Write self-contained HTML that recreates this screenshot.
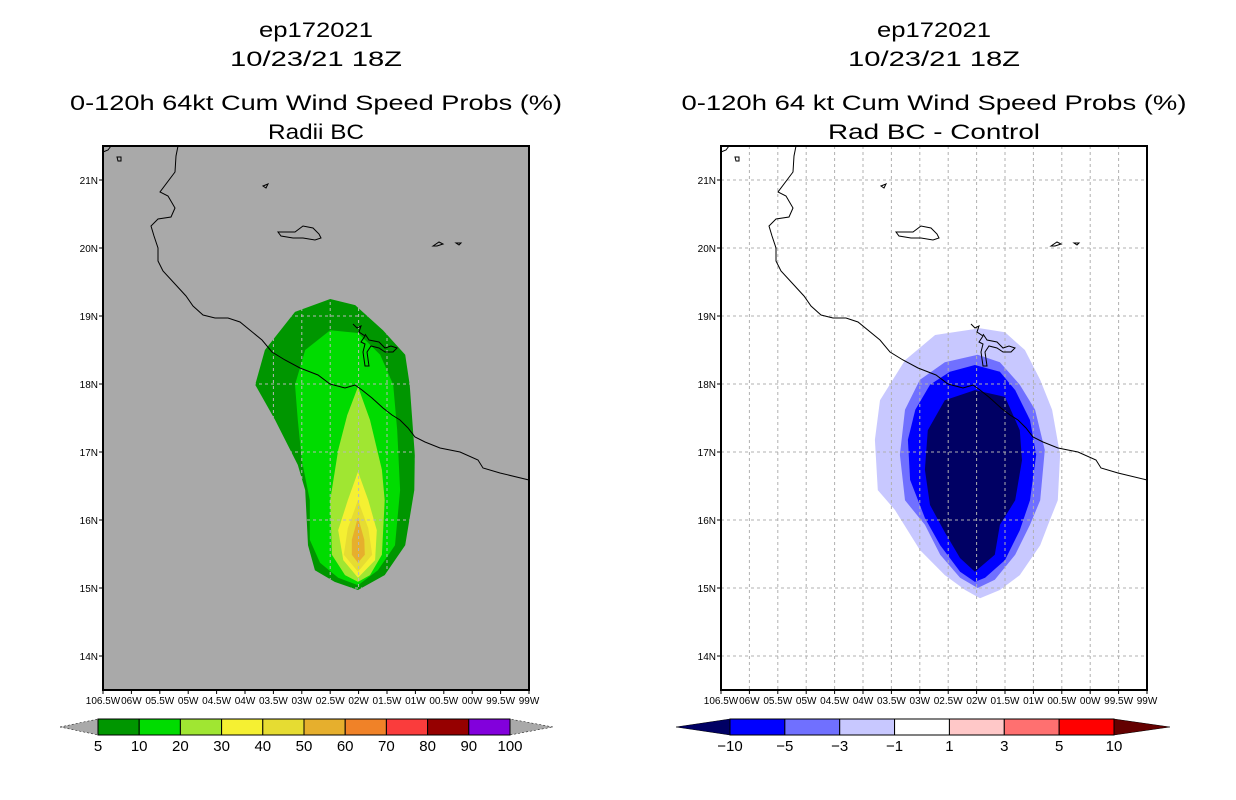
<!DOCTYPE html>
<html><head><meta charset="utf-8"><style>
html,body{margin:0;padding:0;background:#fff;}
svg{display:block;font-family:"Liberation Sans",sans-serif;}
</style></head><body>
<svg id="chart" width="1236" height="800" viewBox="0 0 1236 800"></svg>
<script>
// ---- data ----
const lonTicks=[-106.5,-106,-105.5,-105,-104.5,-104,-103.5,-103,-102.5,-102,-101.5,-101,-100.5,-100,-99.5,-99];
const lonTickLabels=["106.5W","06W","05.5W","05W","04.5W","04W","03.5W","03W","02.5W","02W","01.5W","01W","00.5W","00W","99.5W","99W"];
const latTicks=[14,15,16,17,18,19,20,21];
const latTickLabels=["14N","15N","16N","17N","18N","19N","20N","21N"];
const leftLevels=["5","10","20","30","40","50","60","70","80","90","100"];
const leftColors=["#009600","#00dc00","#a0e632","#f5f032","#e6dc32","#e6af2d","#f08228","#fa3c3c","#960000","#8200dc"];
const rightLevels=["\u221210","\u22125","\u22123","\u22121","1","3","5","10"];
const rightColors=["#0000ff","#7070ff","#c8c8ff","#ffffff","#ffc8c8","#ff7070","#ff0000"];
const rightLow="#000064", rightHigh="#640000";
const p5=[[-102.5,19.25],[-102.06,19.16],[-101.57,18.79],[-101.18,18.43],[-101.1,17.99],[-101.01,16.96],[-101.02,16.44],[-101.18,15.63],[-101.54,15.19],[-102.01,14.97],[-102.42,15.09],[-102.77,15.26],[-102.89,15.63],[-102.94,16.44],[-103.07,16.81],[-103.47,17.47],[-103.82,17.99],[-103.65,18.5],[-103.12,19.06]];
const p10=[[-102.5,18.79],[-102.01,18.75],[-101.62,18.43],[-101.39,17.99],[-101.32,17.32],[-101.27,16.44],[-101.36,15.63],[-101.66,15.26],[-102.01,15.04],[-102.36,15.15],[-102.68,15.37],[-102.86,15.71],[-102.86,16.29],[-103.0,16.88],[-103.07,17.47],[-103.12,17.99],[-102.94,18.5]];
const p20=[[-102.01,17.96],[-101.8,17.47],[-101.59,16.74],[-101.54,16.29],[-101.59,15.49],[-101.8,15.19],[-102.01,15.09],[-102.24,15.19],[-102.47,15.49],[-102.5,16.29],[-102.36,17.03],[-102.2,17.54]];
const p30=[[-102.01,16.71],[-101.83,16.29],[-101.68,15.85],[-101.71,15.41],[-102.01,15.15],[-102.27,15.41],[-102.36,15.85],[-102.19,16.29]];
const p40=[[-102.01,16.29],[-101.83,15.88],[-101.76,15.49],[-102.01,15.24],[-102.26,15.49],[-102.19,15.88]];
const p50=[[-102.01,16.04],[-101.9,15.71],[-101.89,15.49],[-102.01,15.37],[-102.12,15.49],[-102.12,15.71]];
const d1=[[-101.94,18.82],[-101.5,18.76],[-101.15,18.5],[-100.88,18.06],[-100.67,17.62],[-100.53,16.96],[-100.57,16.29],[-100.71,16.0],[-100.88,15.63],[-101.24,15.19],[-101.59,14.97],[-101.94,14.85],[-102.2,14.97],[-102.56,15.19],[-103.0,15.56],[-103.44,16.15],[-103.74,16.44],[-103.79,17.18],[-103.7,17.76],[-103.26,18.35],[-102.73,18.72]];
const d3=[[-101.98,18.43],[-101.59,18.32],[-101.24,17.99],[-100.97,17.62],[-100.8,17.03],[-100.88,16.29],[-101.06,15.93],[-101.32,15.49],[-101.68,15.12],[-101.98,15.0],[-102.29,15.15],[-102.64,15.49],[-102.91,15.93],[-103.26,16.29],[-103.35,16.96],[-103.26,17.62],[-103.0,18.06],[-102.56,18.32]];
const d5=[[-102.03,18.28],[-101.59,18.18],[-101.32,17.91],[-101.06,17.47],[-100.95,16.96],[-101.06,16.29],[-101.24,15.85],[-101.5,15.41],[-101.85,15.15],[-102.03,15.09],[-102.29,15.24],[-102.64,15.63],[-102.91,16.03],[-103.17,16.59],[-103.21,17.18],[-103.08,17.62],[-102.82,17.99],[-102.47,18.18]];
const d10=[[-102.03,17.91],[-101.5,17.81],[-101.24,17.32],[-101.2,16.88],[-101.32,16.29],[-101.59,15.93],[-101.68,15.49],[-102.03,15.24],[-102.29,15.44],[-102.56,15.82],[-102.82,16.22],[-102.91,16.74],[-102.86,17.32],[-102.56,17.76]];

const NS="http://www.w3.org/2000/svg";
const svg=document.getElementById('chart');
function el(t,a,p){const e=document.createElementNS(NS,t);for(const k in a)e.setAttribute(k,a[k]);(p||svg).appendChild(e);return e;}
const W=426,H=544,LON0=-106.5,LON1=-99,LAT0=13.5,LAT1=21.5;
function xs(ox,lon){return ox+(lon-LON0)/(LON1-LON0)*W;}
function ys(lat){return 146+(LAT1-lat)/(LAT1-LAT0)*H;}
function poly(ox,pts){return pts.map(p=>xs(ox,p[0]).toFixed(1)+','+ys(p[1]).toFixed(1)).join(' ');}
function txt(x,y,s,size,anchor,len,parent){const t=el('text',{x:x,y:y,'font-size':size,'text-anchor':anchor||'middle',fill:'#000'},parent);if(len){t.setAttribute('textLength',len);t.setAttribute('lengthAdjust','spacingAndGlyphs');}t.textContent=s;return t;}
const coast="M75,0 L73,10 L72,26 L57,46 L65,50 L72,62 L68,71 L55,73 L48,80 L51,90 L55,102 L55,115 L60,125 L72,138 L83,150 L90,160 L100,169 L112,172 L125,172 L137,176 L159,194 L169,206 L182,214 L197,222 L215,229 L227,238 L242,242 L252,239 L259,244 L269,252 L280,262 L289,269 L297,274 L305,282 L312,291 L322,296 L337,302 L357,306 L375,314 L380,322 L397,327 L426,334";
const river="M250,178 L254,182 L258,180 L256,186 L262,190 L258,196 L262,198 L260,206 L262,220 L266,220 L264,206 L268,200 L276,202 L282,206 L290,206 L294,202 L288,200 L282,202 L276,196 L266,194 L262,188";
const islands=["M175,86 L192,86 L200,80 L210,82 L216,88 L218,92 L212,94 L200,92 L190,92 L178,90 Z","M160,40 L165,38 L163,42 Z","M330,100 L336,96 L340,98 L334,100 Z","M353,97 L358,97 L356,99 Z","M14,11 L18,11 L18,15 L15,15 Z","M0,6 L5,4 L8,0"];

function panel(side){
  const ox=side==='left'?103:721, cx=ox+213;
  const g=el('g',{});
  
  
  const t1=side==='left'?"0-120h 64kt Cum Wind Speed Probs (%)":"0-120h 64 kt Cum Wind Speed Probs (%)";
  const t2=side==='left'?"Radii BC":"Rad BC - Control";
  [["ep172021",37,114],["10/23/21 18Z",66,172],[t1,110,side==='left'?492:505],[t2,139,side==='left'?96:212]].forEach((r,i)=>{
    const t=txt(cx,r[1],r[0],21,'middle',r[2],g);
    
    
  });
  const bg=el('rect',{x:ox,y:146,width:W,height:H,fill:side==='left'?'#a9a9a9':'#ffffff'},g);
  
  
  const polys=side==='left'?[[p5,leftColors[0]],[p10,leftColors[1]],[p20,leftColors[2]],[p30,leftColors[3]],[p40,leftColors[4]],[p50,leftColors[5]]]:[[d1,rightColors[2]],[d3,rightColors[1]],[d5,rightColors[0]],[d10,rightLow]];
  polys.forEach((p,i)=>{const e=el('polygon',{points:poly(ox,p[0]),fill:p[1]},g);
    
    });
  const gc=side==='left'?'#b8b8b8':'#b0b0b0';
  const grid=el('g',{stroke:gc,'stroke-width':1,'stroke-dasharray':'3,3'},g);
  
  
  if(side==='left'){const cp=el('clipPath',{id:'clipL'},g);el('polygon',{points:poly(ox,p5)},cp);grid.setAttribute('clip-path','url(#clipL)');}
  lonTicks.slice(1,-1).forEach(l=>el('line',{x1:xs(ox,l),x2:xs(ox,l),y1:146,y2:690},grid));
  latTicks.forEach(l=>el('line',{x1:ox,x2:ox+W,y1:ys(l),y2:ys(l)},grid));
  const cg=el('g',{transform:`translate(${ox},146)`,fill:'none',stroke:'#000','stroke-width':1},g);
  
  
  el('path',{d:coast},cg);el('path',{d:river},cg);islands.forEach(d=>el('path',{d:d},cg));
  const fr=el('rect',{x:ox,y:146,width:W,height:H,fill:'none',stroke:'#000','stroke-width':2},g);
  
  
  lonTicks.forEach((l,i)=>{el('line',{x1:xs(ox,l),x2:xs(ox,l),y1:690,y2:694,stroke:'#000'},g);
    const t=txt(xs(ox,l),704,lonTickLabels[i],10,'middle',null,g);
    
    });
  latTicks.forEach((l,i)=>{el('line',{x1:ox-4,x2:ox,y1:ys(l),y2:ys(l),stroke:'#000'},g);
    const t=txt(ox-5,ys(l)+4,latTickLabels[i],10,'end',null,g);
    
    });
  const cb=el('g',{},g);
  
  
  let x0,x1,tipL,tipR,cols,labs,lowC,highC;
  if(side==='left'){x0=98;x1=510;tipL=60;tipR=553;cols=leftColors;labs=leftLevels;lowC='#a9a9a9';highC='#a9a9a9';}
  else{x0=730;x1=1114;tipL=676;tipR=1170;cols=rightColors;labs=rightLevels;lowC=rightLow;highC=rightHigh;}
  const y0=719,y1=735,bw=(x1-x0)/cols.length;
  el('polygon',{points:`${tipL},727 ${x0},${y0} ${x0},${y1}`,fill:lowC,stroke:'#000','stroke-width':0.5,'stroke-dasharray':side==='left'?'2,2':'none'},cb);
  el('polygon',{points:`${tipR},727 ${x1},${y0} ${x1},${y1}`,fill:highC,stroke:'#000','stroke-width':0.5,'stroke-dasharray':side==='left'?'2,2':'none'},cb);
  cols.forEach((c,i)=>{const r=el('rect',{x:x0+i*bw,y:y0,width:bw,height:y1-y0,fill:c,stroke:'#000','stroke-width':1},cb);
    
    });
  labs.forEach((s,i)=>{const t=txt(x0+i*bw,751,s,15,'middle',null,cb);
    
    });
}
panel('left');panel('right');
</script>
</body></html>
